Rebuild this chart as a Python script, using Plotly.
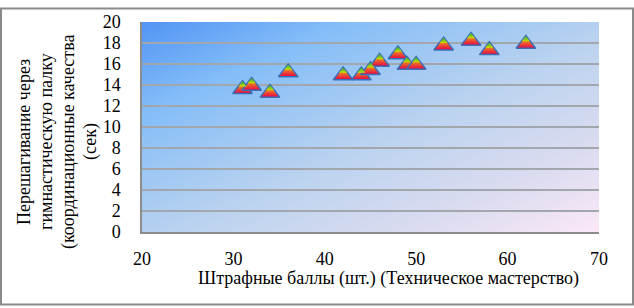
import base64
import plotly.graph_objects as go

# ---- data ----
penalty_points = [31, 32, 34, 36, 42, 44, 45, 46, 48, 49, 50, 53, 56, 58, 62]
step_over_sec = [13.6, 13.9, 13.25, 15.2, 14.9, 14.9, 15.4, 16.2, 16.9, 15.9, 15.9, 17.75, 18.2, 17.3, 17.9]

x_ticks = [20, 30, 40, 50, 60, 70]
y_ticks = [0, 2, 4, 6, 8, 10, 12, 14, 16, 18, 20]

x_title = "Штрафные баллы (шт.) (Техническое мастерство)"
y_title_lines = ["Перешагивание через", "гимнастическую палку", "(координационные качества", "(сек)"]

# ---- layout geometry ----
W, H = 634, 308
L, R, T, B = 142, 35, 15, 76
PW, PH = W - L - R, H - T - B
FONT = "Liberation Serif, Times New Roman, serif"

svg = (
    '<svg xmlns="http://www.w3.org/2000/svg" width="457" height="217" '
    'viewBox="0 0 100 100" preserveAspectRatio="none">'
    '<defs><linearGradient id="g" x1="0" y1="0" x2="1" y2="1">'
    '<stop offset="0" stop-color="#5194f4"/>'
    '<stop offset="0.22" stop-color="#84bdf8"/>'
    '<stop offset="0.55" stop-color="#bcd3ef"/>'
    '<stop offset="0.8" stop-color="#dcdcf0"/>'
    '<stop offset="1" stop-color="#fbe8f7"/>'
    '</linearGradient></defs>'
    '<rect x="0" y="0" width="100" height="100" fill="url(#g)"/></svg>'
)
bg_uri = "data:image/svg+xml;base64," + base64.b64encode(svg.encode()).decode()

fig = go.Figure()

# main triangles: yellow -> red vertical gradient with blue outline
fig.add_trace(go.Scatter(
    x=penalty_points, y=step_over_sec, mode="markers",
    marker=dict(symbol="triangle-up", size=17, color="#f5e400",
                gradient=dict(type="vertical", color="#e6004a"),
                line=dict(color="#3b6fb6", width=1.5)),
    hoverinfo="skip", showlegend=False,
))

# green tip on each triangle (offset upward in pixels converted to data units)
y_per_px = (y_ticks[-1] - y_ticks[0]) / PH
tip_shift = 4.6 * y_per_px
fig.add_trace(go.Scatter(
    x=penalty_points, y=[v + tip_shift for v in step_over_sec], mode="markers",
    marker=dict(symbol="triangle-up", size=7, color="#2aa84a",
                gradient=dict(type="vertical", color="#c8e000"),
                line=dict(width=0)),
    hoverinfo="skip", showlegend=False,
))

fig.update_layout(
    width=W, height=H,
    margin=dict(l=L, r=R, t=T, b=B),
    paper_bgcolor="white",
    plot_bgcolor="rgba(0,0,0,0)",
    font=dict(family=FONT, size=18, color="black"),
    showlegend=False,
    images=[dict(source=bg_uri, xref="paper", yref="paper", x=0, y=1,
                 sizex=1, sizey=1, sizing="stretch", layer="below",
                 xanchor="left", yanchor="top")],
    xaxis=dict(range=[x_ticks[0], x_ticks[-1]], tickvals=x_ticks,
               showgrid=False, zeroline=False, showline=True,
               linecolor="#8c8c8c", linewidth=1.5, ticks="",
               ticklabelstandoff=10, tickfont=dict(size=18)),
    yaxis=dict(range=[y_ticks[0], y_ticks[-1]], tickvals=y_ticks,
               showgrid=True, gridcolor="#a2a6ad", gridwidth=2,
               zeroline=False, showline=True,
               linecolor="#8c8c8c", linewidth=1.5, ticks="",
               ticklabelstandoff=16, tickfont=dict(size=18)),
    annotations=[
        dict(text=x_title, xref="paper", yref="paper",
             x=(388 - L) / PW, y=(PH - (280 - T)) / PH,
             xanchor="center", yanchor="middle", showarrow=False,
             font=dict(family=FONT, size=18)),
    ] + [
        dict(text=line, xref="paper", yref="paper",
             x=(cx - L) / PW, y=(PH - (139 - T)) / PH,
             xanchor="center", yanchor="middle", textangle=-90,
             showarrow=False, font=dict(family=FONT, size=18))
        for line, cx in zip(y_title_lines, [24, 46, 68, 90])
    ],
    shapes=[dict(type="rect", xref="paper", yref="paper",
                 x0=(-L + 1) / PW, x1=1 + (R - 1) / PW,
                 y0=(-B + 1) / PH, y1=1 + (T - 1) / PH,
                 line=dict(color="#8a8a8a", width=2), layer="below")],
)

fig.write_html("out.html")
